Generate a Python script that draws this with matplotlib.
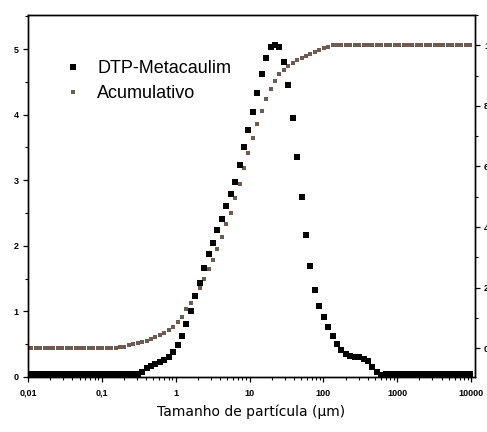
import matplotlib
matplotlib.use('Agg')
import matplotlib.pyplot as plt
from matplotlib.lines import Line2D
from matplotlib.ticker import MultipleLocator, LogLocator, NullFormatter

# particle size classes (um), shared by both series
size_um = [0.01109, 0.01274, 0.01462, 0.01679, 0.01928, 0.02213, 0.02541, 0.02917, 0.03350, 0.03846,
           0.04416, 0.05070, 0.05821, 0.06683, 0.07674, 0.08810, 0.1012, 0.1161, 0.1334, 0.1531,
           0.1758, 0.2018, 0.2317, 0.2661, 0.3055, 0.3508, 0.4027, 0.4624, 0.5309, 0.6095,
           0.6998, 0.8035, 0.9226, 1.059, 1.216, 1.396, 1.603, 1.841, 2.113, 2.427,
           2.786, 3.199, 3.673, 4.217, 4.842, 5.559, 6.383, 7.328, 8.414, 9.661,
           11.09, 12.74, 14.62, 16.79, 19.28, 22.13, 25.41, 29.17, 33.50, 38.46,
           44.16, 50.70, 58.21, 66.83, 76.74, 88.10, 101.2, 116.1, 133.4, 153.1,
           175.8, 201.8, 231.7, 266.1, 305.5, 350.8, 402.7, 462.4, 530.9, 609.5,
           699.8, 803.5, 922.6, 1059, 1216, 1396, 1603, 1841, 2113, 2427,
           2786, 3199, 3673, 4217, 4842, 5559, 6383, 7328, 8414, 9661]

# distribution (left axis)
dtp = ([0.04] * 25 +
       [0.08, 0.13, 0.17, 0.20, 0.23, 0.26, 0.31, 0.38, 0.49, 0.63,
        0.81, 1.01, 1.23, 1.44, 1.66, 1.88, 2.05, 2.24, 2.41, 2.60,
        2.79, 2.98, 3.23, 3.50, 3.77, 4.04, 4.33, 4.62, 4.87, 5.03,
        5.06, 5.03, 4.80, 4.45, 3.95, 3.36, 2.74, 2.16, 1.70, 1.32,
        1.08, 0.91, 0.76, 0.62, 0.51, 0.41, 0.35, 0.32, 0.31, 0.30,
        0.27, 0.24, 0.16, 0.08, 0.03] +
       [0.04] * 20)

# cumulative curve (right axis, %)
acum = ([0.1] * 20 +
        [0.3, 0.5, 0.9, 1.3, 1.7, 2.0, 2.4, 2.9, 3.6, 4.3,
         5.1, 6.0, 7.1, 8.6, 10.4, 12.8, 15.0, 17.4, 20.0, 23.0,
         26.0, 29.2, 32.8, 36.8, 40.9, 44.8, 49.5, 54.2, 59.4, 64.4,
         69.4, 74.0, 78.2, 82.2, 85.6, 88.3, 90.5, 92.0, 93.1, 94.1,
         95.0, 95.8, 96.5, 97.2, 97.9, 98.6, 99.1, 99.6] +
        [100.0] * 32)

xticks = [0.01, 0.1, 1, 10, 100, 1000, 10000]
xtick_labels = ['0,01', '0,1', '1', '10', '100', '1000', '10000']
left_ticks = [0, 1, 2, 3, 4, 5]
right_ticks = [0, 20, 40, 60, 80, 100]

brown = '#6e5c53'
tick_font = dict(family='Liberation Sans', weight='bold', size=6.5)

fig = plt.figure(figsize=(4.87, 4.32), dpi=100)
ax = fig.add_axes([28 / 487, 55 / 432, 447 / 487, 362 / 432])
ax2 = ax.twinx()
ax.set_zorder(ax2.get_zorder() + 1)
ax.patch.set_visible(False)

ax2.plot(size_um, acum, ls='none', marker='s', ms=3.4, color=brown, mec=brown, mew=0)
ax.plot(size_um, dtp, ls='none', marker='s', ms=4.6, color='black', mec='black', mew=0)

ax.set_xscale('log')
ax.set_xlim(0.01, 11300)
ax.set_ylim(0, 5.52)
ax2.set_ylim(-9.5, 110)

ax.set_xticks(xticks)
ax.set_xticklabels(xtick_labels, fontdict=tick_font)
ax.xaxis.set_minor_locator(LogLocator(base=10, subs=range(2, 10), numticks=20))
ax.xaxis.set_minor_formatter(NullFormatter())
ax.set_yticks(left_ticks)
ax.set_yticklabels([str(t) for t in left_ticks], fontdict=tick_font)
ax.yaxis.set_minor_locator(MultipleLocator(0.5))
ax2.set_yticks(right_ticks)
ax2.set_yticklabels([str(t) for t in right_ticks], fontdict=tick_font)
ax2.yaxis.set_minor_locator(MultipleLocator(10))

for a in (ax, ax2):
    a.tick_params(which='major', direction='out', length=3.5, width=0.9, pad=3)
    a.tick_params(which='minor', direction='out', length=2, width=0.8)
    for s in a.spines.values():
        s.set_linewidth(1.0)
ax.tick_params(axis='x', which='major', pad=5)

ax.set_xlabel('Tamanho de partícula (µm)', family='DejaVu Sans', fontsize=10, labelpad=5)

handles = [Line2D([], [], ls='none', marker='s', ms=5.0, color='black', mew=0),
           Line2D([], [], ls='none', marker='s', ms=3.0, color=brown, mew=0)]
ax.legend(handles, ['DTP-Metacaulim', 'Acumulativo'], loc='upper left',
          bbox_to_anchor=(0.0805, 0.876), frameon=False, borderpad=0, borderaxespad=0,
          handlelength=1.0, handletextpad=0.83, labelspacing=0.45,
          prop=dict(family='Liberation Sans', size=13))

fig.savefig('out.png', dpi=100)
